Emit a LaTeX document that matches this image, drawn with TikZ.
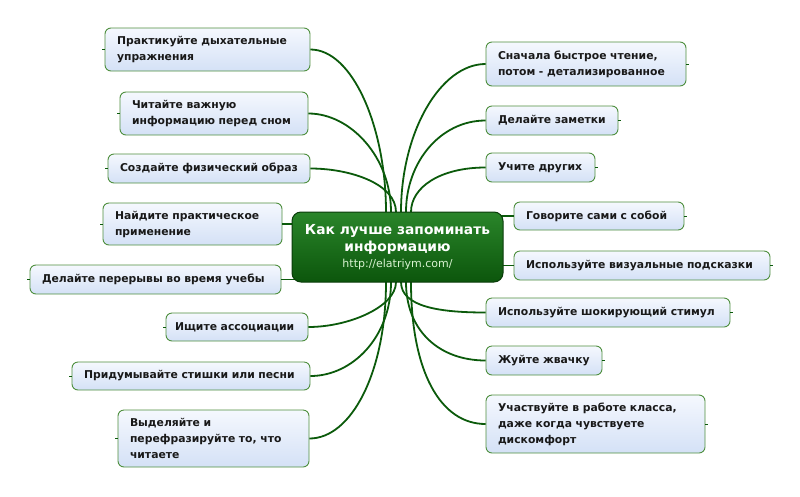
\documentclass[tikz,border=0pt]{standalone}
\usepackage{fontspec}
\setmainfont{DejaVu Sans}
\usetikzlibrary{calc}
\definecolor{boxtop}{HTML}{F5F8FE}
\definecolor{boxbot}{HTML}{D4E1F6}
\definecolor{boxline}{HTML}{4E8F3E}
\definecolor{conn}{HTML}{0B5A0B}
\definecolor{ctop}{HTML}{2A852A}
\definecolor{cbot}{HTML}{0C560C}
\definecolor{cline}{HTML}{0A3C0A}
\definecolor{urlc}{HTML}{D8F2D0}
\tikzset{
  leaf/.style={draw=boxline, line width=0.9pt, rounded corners=6pt,
    top color=boxtop, bottom color=boxbot, align=left, inner xsep=12pt,
    font=\fontsize{10.8}{16}\selectfont\bfseries, text=black!90},
  hub/.style={draw=cline, line width=1pt, rounded corners=9pt,
    top color=ctop, bottom color=cbot, align=center, text=white},
  link/.style={draw=conn, line width=1.8pt},
  stub/.style={draw=conn, line width=0.8pt}
}
\begin{document}
\begin{tikzpicture}[x=1pt,y=-1pt]
\useasboundingbox (0,0) rectangle (800,496);
% coordinates on hub
\coordinate (t1) at (386,212);
\coordinate (t2) at (391,212);
\coordinate (t3) at (396,212);
\coordinate (t4) at (401,212);
\coordinate (t5) at (406,212);
\coordinate (t6) at (411,212);
\coordinate (u1) at (386,282);
\coordinate (u2) at (391,282);
\coordinate (u3) at (396,282);
\coordinate (u4) at (401,282);
\coordinate (u5) at (406,282);
\coordinate (u6) at (411,282);
% left leaves
\node[leaf, text width=181pt, minimum height=43] (l1) at (207.5,49.5) {Практикуйте дыхательные\\упражнения};
\node[leaf, text width=164pt, minimum height=43] (l2) at (214,113.5) {Читайте важную\\информацию перед сном};
\node[leaf, text width=178pt, minimum height=29] (l3) at (209,168.5) {Создайте физический образ};
\node[leaf, text width=155pt, minimum height=42] (l4) at (192.5,224) {Найдите практическое\\применение};
\node[leaf, text width=227pt, minimum height=29] (l5) at (155.5,279.5) {Делайте перерывы во время учебы};
\node[leaf, inner xsep=9pt, text width=124pt, minimum height=28] (l6) at (237,327) {Ищите ассоциации};
\node[leaf, text width=214pt, minimum height=28] (l7) at (191,376) {Придумывайте стишки или песни};
\node[leaf, text width=167pt, minimum height=57] (l8) at (213.5,438.5) {Выделяйте и\\перефразируйте то, что\\читаете};
% right leaves
\node[leaf, text width=176pt, minimum height=44] (r1) at (586,64) {Сначала быстрое чтение,\\потом - детализированное};
\node[leaf, text width=108pt, minimum height=29] (r2) at (552,120.5) {Делайте заметки};
\node[leaf, text width=85pt, minimum height=29] (r3) at (540.5,167.5) {Учите других};
\node[leaf, text width=146pt, minimum height=28] (r4) at (599,216) {Говорите сами с собой};
\node[leaf, text width=232pt, minimum height=29] (r5) at (642,265.5) {Используйте визуальные подсказки};
\node[leaf, text width=220pt, minimum height=29] (r6) at (608,312.5) {Используйте шокирующий стимул};
\node[leaf, text width=92pt, minimum height=29] (r7) at (544,360.5) {Жуйте жвачку};
\node[leaf, text width=195pt, minimum height=58] (r8) at (595.5,424) {Участвуйте в работе класса,\\даже когда чувствуете\\дискомфорт};
% connectors
\draw[link] (l1.east) .. controls +(42,0) and +(0,-85) .. (t1);
\draw[link] (l2.east) .. controls +(42,0) and +(0,-55) .. (t2);
\draw[link] (l3.east) .. controls +(40,0) and +(0,-28) .. (t3);
\draw[link] (r1.west) .. controls +(-45,0) and +(0,-80) .. (t4);
\draw[link] (r2.west) .. controls +(-45,0) and +(0,-50) .. (t5);
\draw[link] (r3.west) .. controls +(-45,0) and +(0,-25) .. (t6);
\draw[link] (l6.east) .. controls +(40,0) and +(0,25) .. (u3);
\draw[link] (l7.east) .. controls +(42,0) and +(0,55) .. (u2);
\draw[link] (l8.east) .. controls +(42,0) and +(0,90) .. (u1);
\draw[link] (r6.west) .. controls +(-45,0) and +(0,25) .. (u4);
\draw[link] (r7.west) .. controls +(-45,0) and +(0,50) .. (u5);
\draw[link] (r8.west) .. controls +(-45,0) and +(0,90) .. (u6);
\draw[link] (l4.east) -- (l4.east -| t3);
\draw[link] (l5.east) -- (l5.east -| t3);
\draw[link] (r4.west) -- (r4.west -| t4);
\draw[link] (r5.west) -- (r5.west -| t4);
% stubs
\foreach \n in {l1,l2,l3,l4,l5,l6,l7,l8} \draw[stub] (\n.west) -- ++(-2.5,0);
\foreach \n in {r1,r2,r3,r4,r5,r6,r7,r8} \draw[stub] (\n.east) -- ++(2.5,0);
% hub
\node[hub, minimum width=211, minimum height=70, font=\fontsize{13.8}{17}\selectfont\bfseries] (hub) at (397.5,247)
  {Как лучше запоминать\\информацию\\[-1pt]\fontsize{11}{14}\selectfont\mdseries\color{urlc}http://elatriym.com/};
\end{tikzpicture}
\end{document}
